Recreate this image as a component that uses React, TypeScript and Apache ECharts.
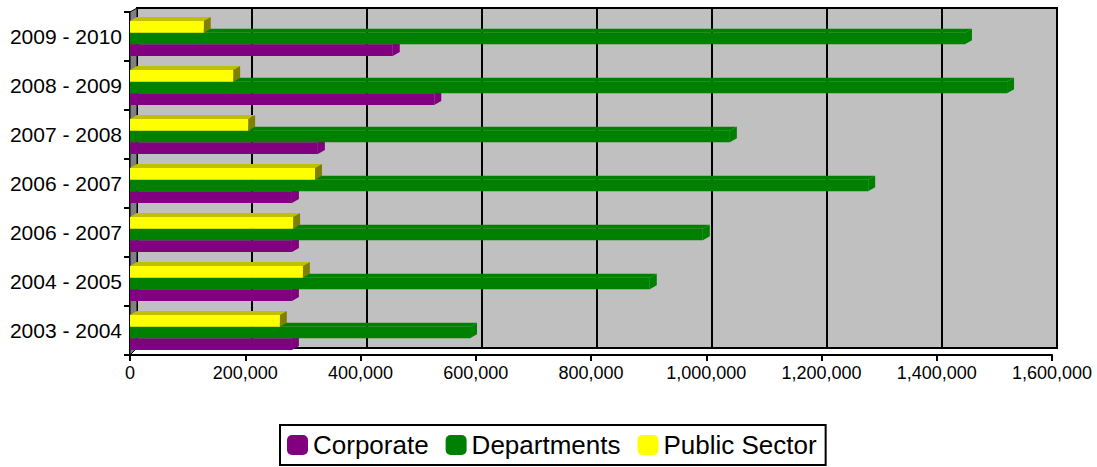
import React, { useEffect, useRef } from "react";
import * as echarts from "echarts";

const categories = [
  "2003 - 2004",
  "2004 - 2005",
  "2006 - 2007",
  "2006 - 2007",
  "2007 - 2008",
  "2008 - 2009",
  "2009 - 2010",
];
const corporate = [281000, 281000, 281000, 281000, 326000, 528000, 456000];
const departments = [590000, 902000, 994000, 1281000, 1041000, 1522000, 1449000];
const publicSector = [260000, 300000, 283000, 321000, 205000, 179000, 128000];
const seriesNames = ["Corporate", "Departments", "Public Sector"];
const xMin = 0;
const xMax = 1600000;
const xInterval = 200000;

const FONT = "'Liberation Sans', Arial, Helvetica, sans-serif";

// layout
const FRONT = { left: 130, top: 12, width: 922, height: 343 };
const DX = 7;
const DY = 4;
const BACK = { left: FRONT.left + DX, top: FRONT.top - DY, width: FRONT.width - 2, height: FRONT.height - 3 };

const colors = [
  { front: "#800080", top: "#800080", side: "#800080" },
  { front: "#008000", top: "#008000", side: "#008000" },
  { front: "#FFFF00", top: "#C0C000", side: "#808000" },
];

const fmt = (v: number) => String(v).replace(/\B(?=(\d{3})+(?!\d))/g, ",");

function makeSeries(name: string, values: number[], si: number) {
  const c = colors[si];
  return {
    type: "custom",
    name,
    xAxisIndex: 1,
    yAxisIndex: 1,
    itemStyle: { color: c.front },
    encode: { x: 0, y: 1 },
    data: values.map((v, i) => [v, i]),
    z: 2 + si,
    renderItem: (params: any, api: any) => {
      const v = api.value(0);
      const ci = api.value(1);
      const p0 = api.coord([0, ci]);
      const p1 = api.coord([v, ci]);
      const band = api.size([0, 1])[1];
      const h = band * 0.238;
      const top = p0[1] - band * 0.316 + (2 - si) * h;
      const x0 = p0[0];
      const x1 = p1[0];
      const dx = 7;
      const dy = 4;
      return {
        type: "group",
        children: [
          {
            type: "polygon",
            shape: { points: [[x0, top], [x0 + dx, top - dy], [x1 + dx, top - dy], [x1, top]] },
            style: { fill: c.top },
          },
          {
            type: "polygon",
            shape: { points: [[x1, top], [x1 + dx, top - dy], [x1 + dx, top + h - dy], [x1, top + h]] },
            style: { fill: c.side },
          },
          {
            type: "rect",
            shape: { x: x0, y: top, width: x1 - x0, height: h },
            style: { fill: c.front },
          },
        ],
      };
    },
  };
}

export default function App() {
  const ref = useRef<HTMLDivElement>(null);
  useEffect(() => {
    document.body.style.margin = "0";
    const chart = echarts.init(ref.current!, null, { renderer: "svg" });
    chart.setOption({
      animation: false,
      textStyle: { fontFamily: FONT },
      grid: [
        {
          left: BACK.left,
          top: BACK.top,
          width: BACK.width,
          height: BACK.height,
          show: true,
          backgroundColor: "#C0C0C0",
          borderColor: "#000",
          borderWidth: 2,
        },
        {
          left: FRONT.left,
          top: FRONT.top,
          width: FRONT.width,
          height: FRONT.height,
        },
      ],
      xAxis: [
        {
          gridIndex: 0,
          type: "value",
          min: xMin,
          max: xMax,
          interval: xInterval,
          axisLine: { show: false },
          axisTick: { show: false },
          axisLabel: { show: false },
          splitLine: { show: true, lineStyle: { color: "#000", width: 2 } },
        },
        {
          gridIndex: 1,
          type: "value",
          min: xMin,
          max: xMax,
          interval: xInterval,
          axisLine: { show: true, lineStyle: { color: "#000", width: 2 } },
          axisTick: { show: true, length: 6, lineStyle: { color: "#000", width: 2 } },
          axisLabel: { color: "#000", fontSize: 18, margin: 9, formatter: (v: number) => fmt(v) },
          splitLine: { show: false },
        },
      ],
      yAxis: [
        {
          gridIndex: 0,
          type: "category",
          data: categories,
          show: false,
        },
        {
          gridIndex: 1,
          type: "category",
          data: categories,
          axisLine: { show: true, lineStyle: { color: "#000", width: 2 } },
          axisTick: { show: true, length: 6, alignWithLabel: false, lineStyle: { color: "#000", width: 2 } },
          axisLabel: { color: "#000", fontSize: 21, margin: 8 },
          splitLine: { show: false },
        },
      ],
      legend: {
        data: seriesNames,
        left: 280,
        top: 425,
        orient: "horizontal",
        icon: "roundRect",
        itemWidth: 21,
        itemHeight: 20,
        itemGap: 17,
        padding: [7, 9, 7, 7],
        borderColor: "#000",
        borderWidth: 2,
        textStyle: { fontSize: 26, color: "#000", fontFamily: FONT },
      },
      graphic: [
        {
          type: "polygon",
          silent: true,
          z: 1,
          shape: {
            points: [
              [FRONT.left, FRONT.top],
              [BACK.left, BACK.top],
              [BACK.left, BACK.top + BACK.height],
              [FRONT.left, FRONT.top + FRONT.height],
            ],
          },
          style: { fill: "#808080", stroke: "#000", lineWidth: 1 },
        },
      ],
      series: [
        makeSeries(seriesNames[0], corporate, 0),
        makeSeries(seriesNames[1], departments, 1),
        makeSeries(seriesNames[2], publicSector, 2),
      ],
    });
    return () => chart.dispose();
  }, []);
  return <div ref={ref} style={{ width: 1097, height: 467 }} />;
}
